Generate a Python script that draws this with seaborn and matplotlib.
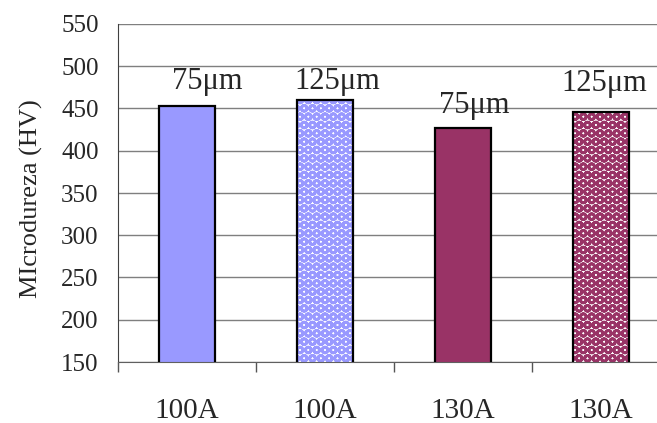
import pandas as pd
import matplotlib
matplotlib.use("Agg")
import matplotlib.pyplot as plt
import seaborn as sns

# dados
amostras = ["100A-75", "100A-125", "130A-75", "130A-125"]
rotulos_x = ["100A", "100A", "130A", "130A"]
microdureza = [453, 460, 427, 446]
rotulos_barra = ["75\u03bcm", "125\u03bcm", "75\u03bcm", "125\u03bcm"]

# posicao dos textos sobre as barras (deslocamento em x, linha de base em HV)
texto_dx = [0.145, 0.087, 0.08, 0.02]
texto_y = [473, 473, 445, 471]

cores = ["#9999FF", "#FFFFFF", "#993366", "#FFFFFF"]
cores_hatch = [None, "#9999FF", None, "#993366"]

sns.set_style("white")
plt.rcParams["font.family"] = ["Liberation Serif", "DejaVu Serif"]
plt.rcParams["hatch.linewidth"] = 2.0

df = pd.DataFrame({"amostra": amostras, "HV": microdureza})

fig = plt.figure(figsize=(6.57, 4.23), dpi=100)
ax = fig.add_axes([118 / 657, 1 - 362 / 423, 552 / 657, 338 / 423])

# barras com preenchimento / padrao
sns.barplot(data=df, x="amostra", y="HV", hue="amostra", palette=cores,
            saturation=1, width=0.4, linewidth=0, legend=False, ax=ax, zorder=2)
for p, hc in zip(ax.patches, cores_hatch):
    if hc is not None:
        p.set_edgecolor(hc)
        p.set_hatch("OO")
        p.set_linewidth(0)

# contorno preto por cima
sns.barplot(data=df, x="amostra", y="HV", fill=False, color="black",
            width=0.4, linewidth=1.6, ax=ax, zorder=3)

for i, txt in enumerate(rotulos_barra):
    ax.text(i + texto_dx[i], texto_y[i], txt, ha="center", va="baseline",
            fontsize=22, zorder=4)

ax.set_ylim(150, 550)
ax.set_yticks(range(150, 551, 50))
ax.set_xlim(-0.5, 3.5)
ax.set_xticks(range(4))
ax.set_xticklabels(rotulos_x, fontsize=21)
ax.set_xticks([-0.5, 0.5, 1.5, 2.5], minor=True)
ax.tick_params(axis="x", which="major", length=0, pad=26)
ax.tick_params(axis="x", which="minor", length=7, width=1, color="#555555",
               direction="out", bottom=True)
ax.tick_params(axis="y", length=0, pad=14, labelsize=18)
ax.yaxis.grid(True, color="#7F7F7F", linewidth=1)
ax.set_axisbelow(True)

ax.set_xlabel("")
ax.set_ylabel("MIcrodureza (HV)", fontsize=19)
ax.yaxis.set_label_coords(-0.136, 0.482)

for s in ["top", "right"]:
    ax.spines[s].set_visible(False)
ax.spines["left"].set_color("#404040")
ax.spines["bottom"].set_color("#606060")

fig.savefig("out.png", dpi=100)
